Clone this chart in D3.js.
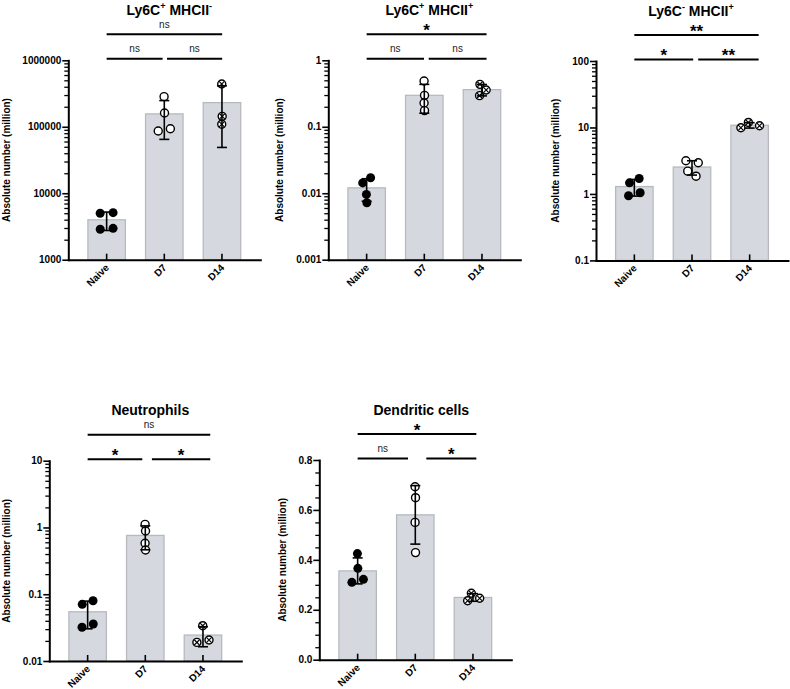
<!DOCTYPE html>
<html><head><meta charset="utf-8">
<script src="https://cdn.jsdelivr.net/npm/d3@7"></script>
<style>
body{margin:0;background:#fff}
svg{display:block}
text{font-family:Arial,"Liberation Sans",Helvetica,sans-serif}
</style>
</head><body>
<svg id="c" width="790" height="689"></svg>
<script>
// ---------------- data ----------------
const categories = ["Naive", "D7", "D14"];
const markerTypes = ["filled", "open", "crossed"];
const yAxisTitle = "Absolute number (million)";

// individual animals (million cells) per group
const ly6cPosMhcNeg = [[4990, 5100, 2870, 2965], [284000, 161000, 86300, 93500], [440000, 143500, 109000]];
const ly6cPosMhcPos = [[0.0143, 0.0171, 0.0096, 0.0072], [0.489, 0.297, 0.228, 0.175], [0.435, 0.357, 0.294]];
const ly6cNegMhcPos = [[1.47, 1.71, 0.94, 1.04], [3.16, 2.95, 2.2, 1.85], [9.9, 10.6, 11.9]];
const neutrophils   = [[0.0706, 0.080, 0.032, 0.0358], [1.114, 0.885, 0.58, 0.46], [0.0338, 0.0206, 0.019]];
const dendritic     = [[0.425, 0.366, 0.310, 0.322], [0.693, 0.649, 0.550, 0.429], [0.266, 0.246, 0.236]];

// tick values / labels
const ticksP1 = [1000, 10000, 100000, 1000000];
const tickLabelsP1 = ["1000", "10000", "100000", "1000000"];
const ticksP2 = [0.001, 0.01, 0.1, 1];
const tickLabelsP2 = ["0.001", "0.01", "0.1", "1"];
const ticksP3 = [0.1, 1, 10, 100];
const tickLabelsP3 = ["0.1", "1", "10", "100"];
const ticksP4 = [0.01, 0.1, 1, 10];
const tickLabelsP4 = ["0.01", "0.1", "1", "10"];
const ticksP5 = [0, 0.2, 0.4, 0.6, 0.8];
const tickLabelsP5 = ["0.0", "0.2", "0.4", "0.6", "0.8"];

// titles (segments, sup = superscript)
const titleP1 = [{t: "Ly6C"}, {t: "+", sup: true}, {t: " MHCII"}, {t: "-", sup: true}];
const titleP2 = [{t: "Ly6C"}, {t: "+", sup: true}, {t: " MHCII"}, {t: "+", sup: true}];
const titleP3 = [{t: "Ly6C"}, {t: "-", sup: true}, {t: " MHCII"}, {t: "+", sup: true}];
const titleP4 = [{t: "Neutrophils"}];
const titleP5 = [{t: "Dendritic cells"}];

// comparisons: group a vs group b, label, bracket level
const sigP1 = [{a: 0, b: 2, label: "ns", level: 2}, {a: 0, b: 1, label: "ns", level: 1}, {a: 1, b: 2, label: "ns", level: 1}];
const sigP2 = [{a: 0, b: 2, label: "*", level: 2}, {a: 0, b: 1, label: "ns", level: 1}, {a: 1, b: 2, label: "ns", level: 1}];
const sigP3 = [{a: 0, b: 2, label: "**", level: 2}, {a: 0, b: 1, label: "*", level: 1}, {a: 1, b: 2, label: "**", level: 1}];
const sigP4 = [{a: 0, b: 2, label: "ns", level: 2}, {a: 0, b: 1, label: "*", level: 1}, {a: 1, b: 2, label: "*", level: 1}];
const sigP5 = [{a: 0, b: 2, label: "*", level: 2}, {a: 0, b: 1, label: "ns", level: 1}, {a: 1, b: 2, label: "*", level: 1}];

// ---------------- layout / style ----------------
const BAR_FILL = "#d5d9df", BAR_STROKE = "#b6babf";
const panels = [
  {values: ly6cPosMhcNeg, ticks: ticksP1, labels: tickLabelsP1, title: titleP1, sig: sigP1, log: true,  domain: [1000, 1000000],
   x0: 68.3, y0: 60.3, h: 199.4, titleDx: 5, brk: {midL: -1.7, midR: 2.7, right: 0.2}},
  {values: ly6cPosMhcPos, ticks: ticksP2, labels: tickLabelsP2, title: titleP2, sig: sigP2, log: true,  domain: [0.001, 1],
   x0: 328.3, y0: 60.3, h: 199.4, titleDx: 5, brk: {midL: -0.3, midR: 4.4, right: 4.6}},
  {values: ly6cNegMhcPos, ticks: ticksP3, labels: tickLabelsP3, title: titleP3, sig: sigP3, log: true,  domain: [0.1, 100],
   x0: 596, y0: 61, h: 199.4, titleDx: -1, brk: {midL: 1.2, midR: 6.2, right: 9}},
  {values: neutrophils,   ticks: ticksP4, labels: tickLabelsP4, title: titleP4, sig: sigP4, log: true,  domain: [0.01, 10],
   x0: 49.3, y0: 460.7, h: 200.3, titleDx: 5, brk: {midL: -3, midR: 6.6, right: 7.3}},
  {values: dendritic,     ticks: ticksP5, labels: tickLabelsP5, title: titleP5, sig: sigP5, log: false, domain: [0, 0.8],
   x0: 319.3, y0: 460, h: 199.7, titleDx: 6, brk: {midL: -7.3, midR: 11, right: 3.4}}
];

const svg = d3.select("#c");
const Y_STRETCH = 2; // swarm: vertical distance counts more than horizontal

function drawPanel(cfg) {
  const W = 192;
  const g = svg.append("g");
  const x = d3.scaleBand().domain(categories).range([cfg.x0, cfg.x0 + W]).paddingInner(0.35).paddingOuter(0.34);
  const y = (cfg.log ? d3.scaleLog() : d3.scaleLinear()).domain(cfg.domain).range([cfg.y0 + cfg.h, cfg.y0]);
  const base = cfg.domain[0];
  const cx = c => x(c) + x.bandwidth() / 2;

  const stats = cfg.values.map((vals, i) => ({
    cat: categories[i], vals, mean: d3.mean(vals), sd: d3.deviation(vals), marker: markerTypes[i]
  }));

  // bars
  g.selectAll("rect.bar").data(stats).join("rect")
    .attr("x", d => x(d.cat)).attr("width", x.bandwidth())
    .attr("y", d => y(d.mean)).attr("height", d => y(base) - y(d.mean))
    .attr("fill", BAR_FILL).attr("stroke", BAR_STROKE).attr("stroke-width", 1.3);

  // points (swarm via force collide in a vertically stretched space)
  stats.forEach(s => {
    const c = cx(s.cat);
    const nodes = s.vals.map((v, i) => ({v, py: y(v), x: c + (i % 2 === 0 ? -0.5 : 0.5), y: y(v) * Y_STRETCH, fy: y(v) * Y_STRETCH}));
    const sim = d3.forceSimulation(nodes)
      .force("x", d3.forceX(c).strength(0.012))
      .force("col", d3.forceCollide(6.5).iterations(8)).stop();
    for (let k = 0; k < 600; k++) sim.tick();
    const pg = g.append("g");
    nodes.forEach(n => {
      if (s.marker === "filled") {
        pg.append("circle").attr("cx", n.x).attr("cy", n.py).attr("r", 4.5).attr("fill", "#000");
      } else {
        pg.append("circle").attr("cx", n.x).attr("cy", n.py).attr("r", 4)
          .attr("fill", "#fff").attr("stroke", "#000").attr("stroke-width", 1.4);
        if (s.marker === "crossed") {
          const a = 2.6;
          pg.append("path").attr("d", `M${n.x - a},${n.py - a}L${n.x + a},${n.py + a}M${n.x - a},${n.py + a}L${n.x + a},${n.py - a}`)
            .attr("stroke", "#000").attr("stroke-width", 1.2);
        }
      }
    });
  });

  // error bars (mean ± SD)
  stats.forEach(s => {
    const c = cx(s.cat);
    const lo = Math.max(s.mean - s.sd, base), hi = s.mean + s.sd;
    const eg = g.append("g").attr("stroke", "#000").attr("stroke-width", 1.6);
    eg.append("line").attr("x1", c).attr("x2", c).attr("y1", y(lo)).attr("y2", y(hi));
    eg.append("line").attr("x1", c - 5).attr("x2", c + 5).attr("y1", y(hi)).attr("y2", y(hi));
    if (s.mean - s.sd > base) eg.append("line").attr("x1", c - 5).attr("x2", c + 5).attr("y1", y(lo)).attr("y2", y(lo));
  });

  // minor ticks
  let minors = [];
  if (cfg.log) {
    const k0 = Math.round(Math.log10(cfg.domain[0])), k1 = Math.round(Math.log10(cfg.domain[1]));
    for (let k = k0; k < k1; k++) for (let m = 2; m <= 9; m++) minors.push(m * Math.pow(10, k));
  } else {
    minors = d3.range(0, cfg.domain[1] + 1e-9, 0.05).filter(v => Math.abs(v / 0.2 - Math.round(v / 0.2)) > 1e-6);
  }
  const minorAxis = g.append("g").attr("transform", `translate(${cfg.x0},0)`)
    .call(d3.axisLeft(y).tickValues(minors).tickSize(4).tickFormat(""));
  minorAxis.select(".domain").remove();
  minorAxis.selectAll("line").attr("stroke-width", 1.3);

  // y axis
  const ya = g.append("g").attr("transform", `translate(${cfg.x0},0)`)
    .call(d3.axisLeft(y).tickValues(cfg.ticks).tickFormat((d, i) => cfg.labels[i]).tickSize(6).tickPadding(1).tickSizeOuter(0));
  ya.select(".domain").attr("stroke-width", 2).attr("stroke-linecap", "square");
  ya.selectAll(".tick line").attr("stroke-width", 1.6);
  ya.selectAll(".tick text").attr("font-size", 10).attr("font-weight", "bold").attr("fill", "#000")
    .attr("font-family", "Arial, 'Liberation Sans', sans-serif");
  let maxW = 0;
  ya.selectAll(".tick text").each(function () { maxW = Math.max(maxW, this.getBBox().width); });

  // x axis
  const xa = g.append("g").attr("transform", `translate(0,${cfg.y0 + cfg.h})`)
    .call(d3.axisBottom(x).tickSize(-6).tickSizeOuter(0).tickFormat(""));
  xa.select(".domain").attr("stroke-width", 2).attr("stroke-linecap", "square");
  xa.selectAll(".tick line").attr("stroke-width", 1.6);
  categories.forEach(c => {
    g.append("text").attr("transform", `translate(${cx(c) + 3},${cfg.y0 + cfg.h + 8.5}) rotate(-45)`)
      .attr("text-anchor", "end").attr("font-size", 10).attr("font-weight", "bold").text(c);
  });

  // y axis title
  const tx = cfg.x0 - 7 - maxW - 16 + 3.6;
  g.append("text").attr("transform", `translate(${tx},${cfg.y0 + cfg.h / 2}) rotate(-90)`)
    .attr("text-anchor", "middle").attr("font-size", 10).attr("font-weight", "bold").text(yAxisTitle);

  // title
  const t = g.append("text").attr("x", cfg.x0 + W / 2 + cfg.titleDx).attr("y", cfg.y0 - 45.5)
    .attr("text-anchor", "middle").attr("font-size", 14).attr("font-weight", "bold");
  let prevSup = false;
  cfg.title.forEach(s => {
    const ts = t.append("tspan").text(s.t);
    if (s.sup) { ts.attr("font-size", 9).attr("dy", -5.5); prevSup = true; }
    else if (prevSup) { ts.attr("dy", 5.5); prevSup = false; }
  });

  // significance brackets
  cfg.sig.forEach(s => {
    const ly = s.level === 1 ? cfg.y0 - 1.5 : cfg.y0 - 26;
    const xs = cx(categories[s.a]) + (s.a === 1 ? cfg.brk.midR : 0);
    const xe = cx(categories[s.b]) + (s.b === 1 ? cfg.brk.midL : (s.b === 2 ? cfg.brk.right : 0));
    g.append("line").attr("x1", xs).attr("x2", xe).attr("y1", ly).attr("y2", ly)
      .attr("stroke", "#000").attr("stroke-width", 2);
    const isStar = s.label.indexOf("*") >= 0;
    g.append("text").attr("x", (xs + xe) / 2).attr("y", isStar ? ly + 1.5 : ly - 6.5)
      .attr("text-anchor", "middle")
      .attr("font-size", isStar ? 17 : 10).attr("font-weight", isStar ? "bold" : "normal")
      .attr("fill", isStar ? "#000" : "#222").text(s.label);
  });
}

panels.forEach(drawPanel);
</script>
</body></html>
